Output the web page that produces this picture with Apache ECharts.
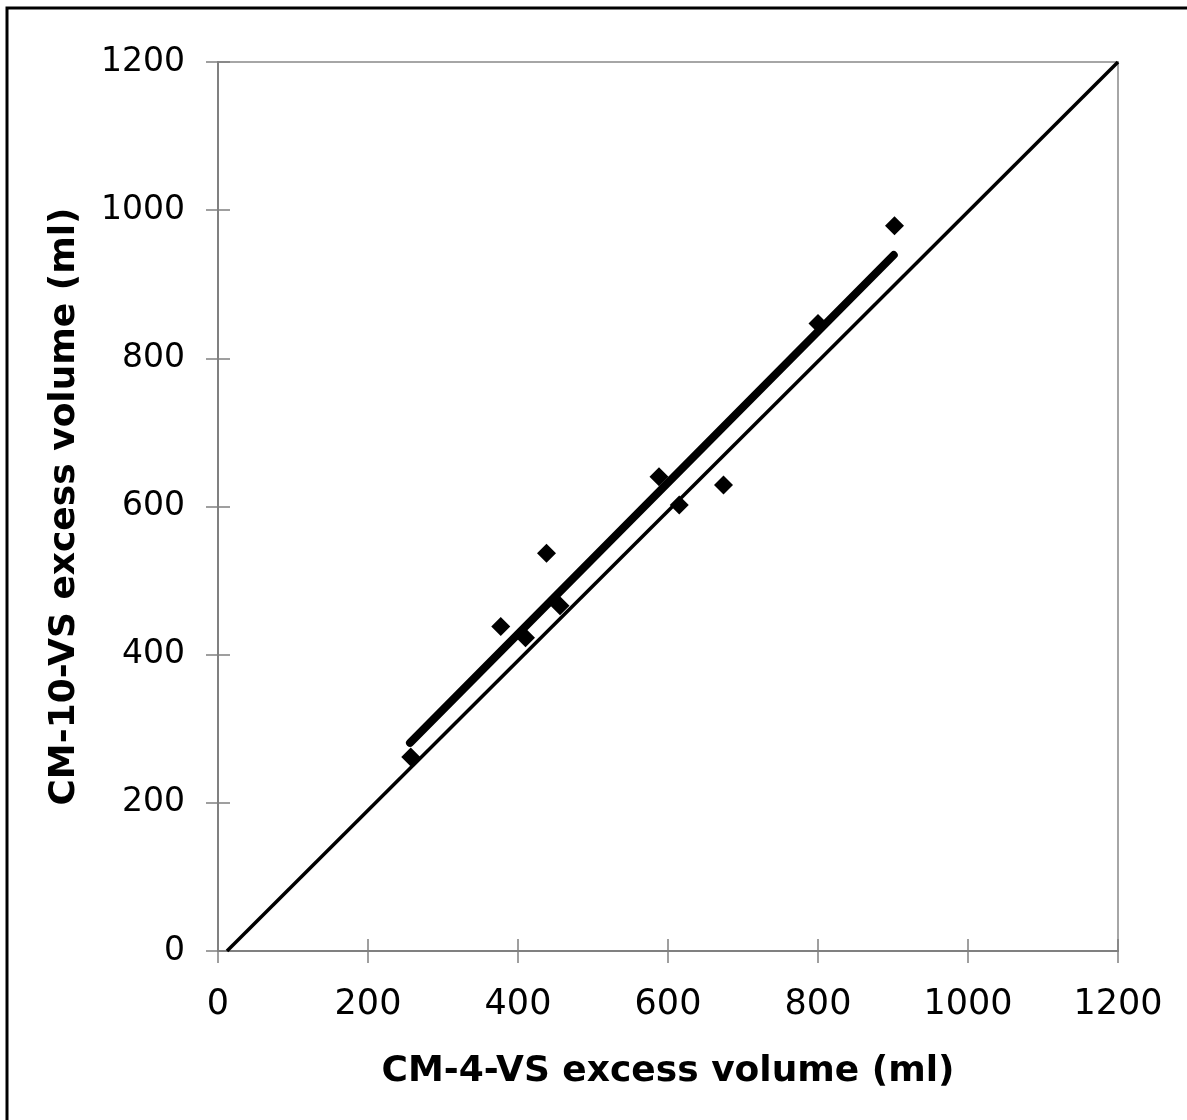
<!DOCTYPE html>
<html><head><meta charset="utf-8">
<script src="https://cdn.jsdelivr.net/npm/echarts@6/dist/echarts.min.js"></script>
<style>html,body{margin:0;padding:0;background:#fff}#c{width:1187px;height:1120px}</style>
</head><body><div id="c"></div>
<script>
const xTitle = 'CM-4-VS excess volume (ml)';
const yTitle = 'CM-10-VS excess volume (ml)';
const cm4 = [257, 377, 410, 438, 456, 588, 615, 674, 800, 902];
const cm10 = [262, 438, 423, 537, 466, 640, 602, 629, 847, 979];
const fitX = [256, 901];
const fitY = [281, 939.5];
const idX = [12, 1200];
const idY = [0, 1200];

const chart = echarts.init(document.getElementById('c'));
const font = 'DejaVu Sans, Verdana, sans-serif';
const tickStyle = {color: '#808080', width: 1.5};
const baseAxis = {
  type: 'value', min: 0, max: 1200, interval: 200,
  splitLine: {show: false}
};
const fmt = v => String(v);
chart.setOption({
  animation: false,
  backgroundColor: '#fff',
  grid: {left: 218, right: 69, top: 62, bottom: 169, show: true, borderColor: '#a6a6a6', borderWidth: 2, backgroundColor: 'transparent'},
  graphic: [{type: 'rect', shape: {x: 7, y: 8, width: 1400, height: 1400}, style: {fill: 'none', stroke: '#000', lineWidth: 3}, silent: true}],
  xAxis: [
    Object.assign({}, baseAxis, {
      position: 'bottom',
      axisLine: {show: true, lineStyle: {color: '#808080', width: 2}},
      axisTick: {show: true, inside: false, length: 12, lineStyle: tickStyle},
      axisLabel: {color: '#000', fontFamily: font, fontSize: 35, margin: 36, formatter: fmt},
      name: xTitle, nameLocation: 'middle', nameGap: 103,
      nameTextStyle: {color: '#000', fontFamily: font, fontSize: 36, fontWeight: 'bold'}
    }),
    Object.assign({}, baseAxis, {
      position: 'bottom',
      axisLine: {show: false},
      axisTick: {show: true, inside: true, length: 12, lineStyle: tickStyle},
      axisLabel: {show: false}
    })
  ],
  yAxis: [
    Object.assign({}, baseAxis, {
      position: 'left',
      axisLine: {show: true, lineStyle: {color: '#808080', width: 2}},
      axisTick: {show: true, inside: false, length: 12, lineStyle: tickStyle},
      axisLabel: {color: '#000', fontFamily: font, fontSize: 33, margin: 33, formatter: fmt},
      name: yTitle, nameLocation: 'middle', nameGap: 135, nameRotate: 90,
      nameTextStyle: {color: '#000', fontFamily: font, fontSize: 36, fontWeight: 'bold'}
    }),
    Object.assign({}, baseAxis, {
      position: 'left',
      axisLine: {show: false},
      axisTick: {show: true, inside: true, length: 12, lineStyle: tickStyle},
      axisLabel: {show: false}
    })
  ],
  series: [
    {type: 'line', data: idX.map((x, i) => [x, idY[i]]), showSymbol: false, symbol: 'none',
     lineStyle: {color: '#000', width: 3.5}, z: 2},
    {type: 'line', data: fitX.map((x, i) => [x, fitY[i]]), showSymbol: false, symbol: 'none',
     lineStyle: {color: '#000', width: 8, cap: 'round'}, z: 3},
    {type: 'scatter', data: cm4.map((x, i) => [x, cm10[i]]), symbol: 'diamond', symbolSize: 19,
     itemStyle: {color: '#000', opacity: 1}, z: 4}
  ]
});
</script></body></html>
